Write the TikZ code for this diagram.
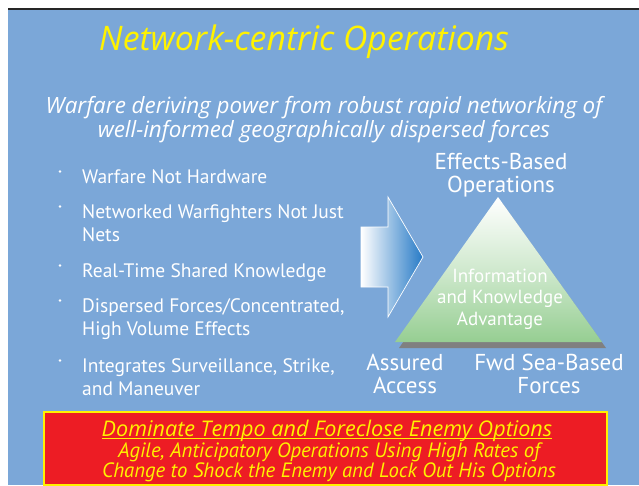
\documentclass[tikz,border=0pt]{standalone}
\usepackage{fontspec}
\setmainfont{PT Sans}
\newfontfamily\widefont{Open Sans}
\usetikzlibrary{positioning}
\definecolor{slideblue}{RGB}{123,167,216}
\definecolor{boxred}{RGB}{237,28,36}
\definecolor{slideyellow}{RGB}{255,242,0}
\definecolor{arrowblue}{RGB}{38,122,198}
\definecolor{pyrgreen}{RGB}{150,206,146}
\definecolor{shadowgray}{RGB}{128,128,128}

\begin{document}
\begin{tikzpicture}[x=1pt,y=-1pt]
\tikzstyle{every node}=[inner sep=0pt,align=center,anchor=base]
\tikzstyle{bullet}=[text=white,anchor=base west,align=left,font=\fontsize{19.5}{23.5}\selectfont]
\tikzstyle{corner}=[text=white,font=\fontsize{23}{23}\selectfont]
\useasboundingbox (0,0) rectangle (639,485);
\fill[slideblue] (8,10) rectangle (639,485);
\draw[black!85,line width=1.5pt] (8,9) -- (639,9);

\node[text=slideyellow,font=\widefont\fontsize{33.8}{36}\selectfont\itshape] (title) at (304,50) {Network-centric Operations};
\node[text=white,font=\widefont\fontsize{22.4}{20}\selectfont\itshape] (sub) at (324,137) {Warfare deriving power from robust rapid networking of\\well-informed geographically dispersed forces};

\foreach \y/\n/\txt [count=\i] in {183/1/{Warfare Not Hardware},218/2/{Networked Warfighters Not Just\\Nets},277/1/{Real-Time Shared Knowledge},312/2/{Dispersed Forces/Concentrated,\\High Volume Effects},372/2/{Integrates Surveillance, Strike,\\and Maneuver}}{
  \node[bullet] (b\i) at (82,{\y+(\n-1)*23.5}) {\txt};
  \fill[white] (60,\y-11.5) circle (1.4);
}

\shade[left color=white,right color=arrowblue,draw=white,line width=0.7pt] (361,227) -- (388,227) -- (388,197) -- (423,257) -- (388,317) -- (388,287) -- (361,287) -- cycle;

\coordinate (apex) at (498,197);
\coordinate (left) at (395,342);
\coordinate (right) at (602,342);
\fill[shadowgray] ([shift={(4,6)}]apex) -- ([shift={(4,6)}]right) -- ([shift={(4,6)}]left) -- cycle;
\shade[top color=white,bottom color=pyrgreen,middle color=pyrgreen!45!white] (apex) -- (right) -- (left) -- cycle;

\node[text=white,font=\fontsize{19}{21.5}\selectfont] (info) at (500,325) {Information\\and Knowledge\\Advantage};
\node[corner] (ebo) at (501,192) {Effects-Based\\Operations};
\node[corner] (aa) at (405,393) {Assured\\Access};
\node[corner] (fwd) at (549,393) {Fwd Sea-Based\\Forces};

\node[draw=slideyellow,fill=boxred,line width=2pt,minimum width=563pt,minimum height=73pt,anchor=center] (box) at (325.5,448.5) {};
\node[text=slideyellow,font=\widefont\fontsize{21.6}{20}\selectfont\itshape] (dom) at (327,436) {Dominate Tempo and Foreclose Enemy Options};
\draw[slideyellow,line width=1pt] ([yshift=-2pt]dom.base west) -- ([yshift=-2pt]dom.base east);
\node[text=slideyellow,font=\fontsize{20.7}{20}\selectfont\itshape] (agile) at (329,477) {Agile, Anticipatory Operations Using High Rates of\\Change to Shock the Enemy and Lock Out His Options};
\end{tikzpicture}
\end{document}
